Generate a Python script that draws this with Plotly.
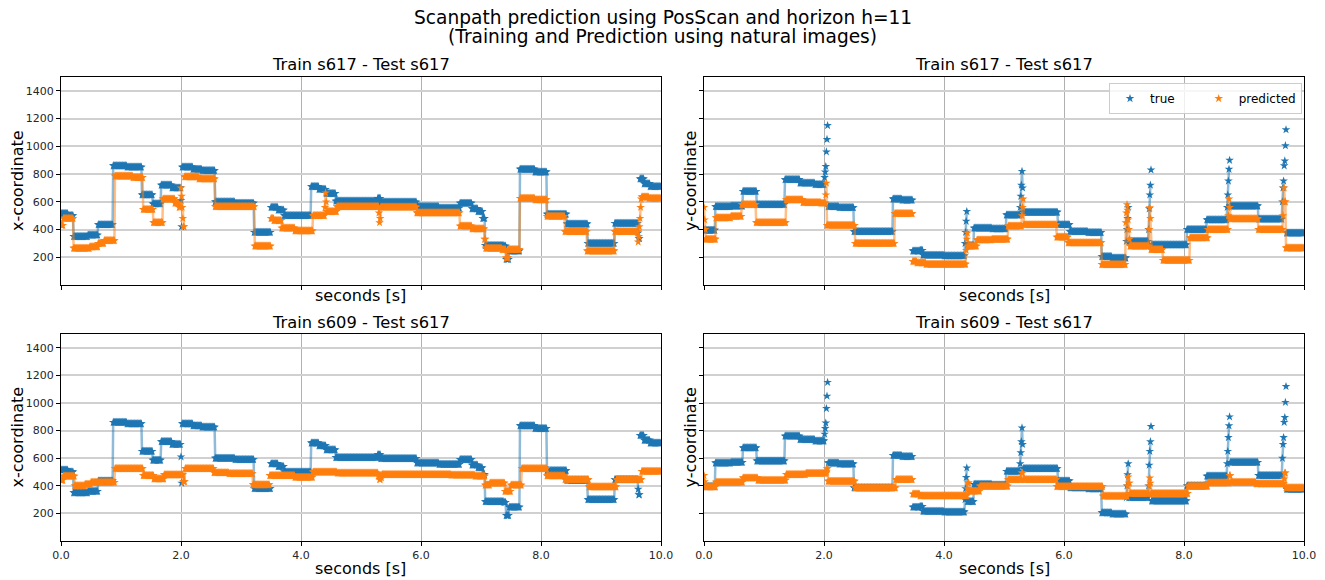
import numpy as np
import plotly.graph_objects as go

W, H = 1325, 580
RATE = 100          # samples per second
N_SAMPLES = 1000    # 10 s of gaze data

# ---- ground-truth scanpath of subject s617 (segment start [s] -> level [px]) ----
true_x_t = [0.00, 0.12, 0.21, 0.45, 0.62, 0.87, 1.10, 1.35, 1.53, 1.67,
            1.85, 2.00, 2.01, 2.02, 2.20, 2.35, 2.57, 2.90, 3.22, 3.50,
            3.62, 3.72, 4.17, 4.30, 4.42, 4.58, 5.28, 5.33, 5.93, 6.30,
            6.65, 6.85, 6.95, 7.03, 7.07, 7.38, 7.42, 7.47, 7.65, 7.90,
            8.10, 8.43, 8.78, 9.23, 9.62, 9.63, 9.65, 9.72, 9.82]
true_x_v = [515, 500, 350, 360, 435, 860, 850, 650, 585, 720,
            700, 610, 420, 850, 835, 825, 600, 590, 380, 560,
            540, 500, 710, 690, 660, 605, 625, 598, 565, 555,
            590, 550, 530, 480, 285, 280, 185, 245, 835, 815,
            510, 440, 300, 445, 375, 335, 765, 730, 710]
true_x_breaks = [2.00, 2.01, 2.02, 3.50, 9.65]

true_y_t = [0.00, 0.19, 0.45, 0.65, 0.88, 1.35, 1.60, 1.85, 2.01, 2.02,
            2.03, 2.04, 2.05, 2.06, 2.07, 2.25, 2.50, 3.15, 3.30, 3.48,
            3.60, 3.65, 4.00, 4.35, 4.36, 4.37, 4.38, 4.39, 4.50, 4.80,
            5.04, 5.27, 5.28, 5.29, 5.30, 5.31, 5.32, 5.90, 6.10, 6.40,
            6.63, 6.80, 7.04, 7.05, 7.06, 7.07, 7.08, 7.41, 7.42, 7.43,
            7.44, 7.45, 7.46, 8.05, 8.38, 8.72, 8.73, 8.74, 8.75, 8.76,
            8.77, 9.24, 9.64, 9.65, 9.66, 9.67, 9.68, 9.69, 9.70, 9.71]
true_y_v = [395, 565, 570, 675, 580, 760, 735, 725, 775, 815,
            855, 960, 1050, 1150, 565, 558, 385, 620, 612, 245,
            250, 215, 210, 300, 380, 460, 530, 285, 410, 405,
            505, 560, 640, 720, 820, 700, 525, 435, 385, 378,
            205, 195, 315, 400, 480, 560, 315, 400, 550, 650,
            720, 830, 290, 400, 470, 560, 650, 750, 835, 900,
            570, 475, 600, 700, 750, 860, 895, 1005, 1120, 375]
true_y_breaks = [2.04, 2.05, 2.06, 2.07, 3.48, 4.39, 5.32, 7.04, 7.08,
                 7.45, 7.46, 8.76, 8.77, 9.67, 9.68, 9.69, 9.70, 9.71]

# ---- PosScan prediction, trained on s617 ----
pred617_x_t = [0.00, 0.04, 0.21, 0.48, 0.62, 0.72, 0.90, 1.20, 1.37, 1.54,
               1.70, 1.90, 1.97, 2.00, 2.01, 2.02, 2.03, 2.04, 2.06, 2.30,
               2.57, 3.23, 3.50, 3.55, 3.68, 3.90, 4.20, 4.40, 4.41, 4.42,
               4.43, 4.60, 5.30, 5.31, 5.32, 5.33, 5.93, 6.65, 6.85, 7.06,
               7.08, 7.35, 7.42, 7.46, 7.65, 7.90, 8.10, 8.40, 8.77, 9.23,
               9.62, 9.63, 9.64, 9.65, 9.66, 9.67, 9.68, 9.80]
pred617_x_v = [430, 480, 265, 275, 300, 320, 785, 775, 545, 450,
               620, 590, 560, 700, 640, 560, 480, 420, 780, 765,
               565, 280, 480, 465, 410, 390, 500, 560, 665, 600,
               530, 565, 520, 450, 480, 562, 520, 425, 405, 330,
               265, 255, 195, 255, 625, 615, 495, 385, 245, 385,
               310, 350, 420, 480, 560, 620, 635, 625]
pred617_x_breaks = [2.00, 2.06, 3.50]

pred617_y_t = [0.00, 0.01, 0.02, 0.03, 0.20, 0.45, 0.63, 0.87, 1.37, 1.65,
               1.95, 2.03, 2.04, 2.05, 2.52, 3.18, 3.48, 3.55, 3.70, 4.37,
               4.38, 4.39, 4.40, 4.55, 4.80, 5.07, 5.30, 5.31, 5.32, 5.33,
               5.88, 6.07, 6.63, 7.03, 7.04, 7.05, 7.06, 7.07, 7.08, 7.09,
               7.10, 7.42, 7.43, 7.44, 7.45, 7.65, 8.10, 8.40, 8.74, 8.75,
               8.76, 8.77, 9.24, 9.65, 9.66, 9.67, 9.68, 9.70]
pred617_y_v = [560, 470, 400, 330, 485, 495, 580, 450, 615, 595,
               590, 650, 735, 430, 300, 515, 170, 160, 150, 250,
               330, 375, 280, 325, 330, 425, 500, 560, 620, 435,
               345, 305, 148, 450, 520, 580, 540, 470, 400, 330,
               280, 400, 557, 480, 255, 178, 340, 400, 500, 620,
               560, 477, 400, 500, 600, 700, 600, 267]
pred617_y_breaks = [3.48]

# ---- PosScan prediction, trained on s609 ----
pred609_x_t = [0.00, 0.04, 0.23, 0.40, 0.50, 0.90, 1.37, 1.55, 1.72, 2.04,
               2.07, 2.55, 2.80, 3.20, 3.48, 3.90, 4.20, 4.60, 5.29, 5.31,
               5.33, 5.35, 6.50, 6.90, 7.07, 7.15, 7.40, 7.50, 7.68, 8.10,
               8.40, 8.80, 9.26, 9.68]
pred609_x_v = [440, 470, 400, 410, 425, 525, 475, 450, 480, 430,
               525, 495, 488, 408, 475, 462, 500, 492, 470, 445,
               460, 482, 478, 470, 405, 420, 360, 405, 525, 472,
               445, 392, 445, 505]
pred609_x_breaks = [3.48]

pred609_y_t = [0.00, 0.01, 0.02, 0.20, 0.65, 0.90, 1.37, 1.70, 2.04, 2.05,
               2.07, 2.52, 3.20, 3.48, 3.60, 4.39, 4.40, 4.42, 4.60, 5.07,
               5.30, 5.32, 5.88, 6.65, 7.06, 7.07, 7.08, 7.10, 7.42, 7.43,
               7.44, 7.45, 8.07, 8.40, 8.76, 8.78, 9.20, 9.67, 9.68, 9.70]
pred609_y_v = [475, 430, 392, 426, 457, 440, 482, 490, 500, 525,
               433, 385, 445, 340, 328, 380, 421, 361, 397, 445,
               493, 445, 395, 325, 400, 464, 420, 344, 400, 457,
               420, 344, 397, 421, 474, 426, 415, 450, 493, 385]
pred609_y_breaks = [3.48]

x_ticks = [0, 2, 4, 6, 8, 10]
x_tick_text = ["0.0", "2.0", "4.0", "6.0", "8.0", "10.0"]
y_ticks = [200, 400, 600, 800, 1000, 1200, 1400]

BLUE, ORANGE = "#1f77b4", "#ff7f0e"
BLUE_EDGE, ORANGE_EDGE = "rgba(31,119,180,0.5)", "rgba(255,127,14,0.5)"
FONT = "DejaVu Sans"
# legend entries (extra padding after the first one gives the two-column spacing)
LEGEND_NAMES = {"true": "true" + "&nbsp;" * 5, "predicted": "predicted"}


def sample(starts, levels):
    """Hold each level from its start time until the next segment."""
    t = np.arange(N_SAMPLES) / RATE
    idx = np.searchsorted(np.asarray(starts), t + 1e-6, side="right") - 1
    return t, np.asarray(levels, dtype=float)[idx]


def with_breaks(t, v, breaks):
    cut = {int(round(b * RATE)) for b in breaks}
    xs, ys = [], []
    for i, (ti, vi) in enumerate(zip(t, v)):
        if i in cut:
            xs.append(None)
            ys.append(None)
        xs.append(float(ti))
        ys.append(float(vi))
    return xs, ys


series = {
    "true_x": (true_x_t, true_x_v, true_x_breaks),
    "true_y": (true_y_t, true_y_v, true_y_breaks),
    "p617_x": (pred617_x_t, pred617_x_v, pred617_x_breaks),
    "p617_y": (pred617_y_t, pred617_y_v, pred617_y_breaks),
    "p609_x": (pred609_x_t, pred609_x_v, pred609_x_breaks),
    "p609_y": (pred609_y_t, pred609_y_v, pred609_y_breaks),
}
curves = {k: with_breaks(*sample(s, l), b) for k, (s, l, b) in series.items()}

# panel pixel boxes: (left, top, right, bottom)
panels = [
    dict(ax="", box=(61, 77, 661, 285), title="Train s617 - Test s617",
         true="true_x", pred="p617_x", ylab="x-coordinate", xt=False, yt=True, leg=False),
    dict(ax="2", box=(704, 77, 1304, 285), title="Train s617 - Test s617",
         true="true_y", pred="p617_y", ylab="y-coordinate", xt=False, yt=False, leg=True),
    dict(ax="3", box=(61, 334, 661, 541), title="Train s609 - Test s617",
         true="true_x", pred="p609_x", ylab="x-coordinate", xt=True, yt=True, leg=False),
    dict(ax="4", box=(704, 334, 1304, 541), title="Train s609 - Test s617",
         true="true_y", pred="p609_y", ylab="y-coordinate", xt=True, yt=False, leg=False),
]

fig = go.Figure()
annotations = []


def ann(text, px, py, size, angle=0):
    annotations.append(dict(
        text=text, x=px / W, y=1 - py / H, xref="paper", yref="paper",
        xanchor="center", yanchor="middle", showarrow=False, textangle=angle,
        font=dict(family=FONT, size=size, color="black")))


layout_axes = {}
for p in panels:
    l, t, r, b = p["box"]
    xa, ya = "x" + p["ax"], "y" + p["ax"]
    for key, color, edge, name in ((p["true"], BLUE, BLUE_EDGE, "true"),
                                   (p["pred"], ORANGE, ORANGE_EDGE, "predicted")):
        xs, ys = curves[key]
        fig.add_trace(go.Scatter(x=xs, y=ys, xaxis=xa, yaxis=ya, mode="lines",
                                 line=dict(color=edge, width=2.5),
                                 hoverinfo="skip", showlegend=False))
        fig.add_trace(go.Scatter(x=xs, y=ys, xaxis=xa, yaxis=ya, mode="markers",
                                 marker=dict(symbol="star", size=6.5, color=color,
                                             line=dict(width=0)),
                                 name=LEGEND_NAMES[name], showlegend=p["leg"]))
    common = dict(showline=True, linecolor="black", linewidth=1, mirror=True,
                  ticks="outside", ticklen=4, tickcolor="black", zeroline=False,
                  automargin=False,
                  tickfont=dict(family=FONT, size=11, color="#262626"))
    layout_axes["xaxis" + p["ax"]] = dict(
        domain=[l / W, r / W], anchor=ya, range=[0, 10],
        tickvals=x_ticks, ticktext=x_tick_text, showticklabels=p["xt"],
        showgrid=True, gridcolor="#b0b0b0", gridwidth=1, **common)
    layout_axes["yaxis" + p["ax"]] = dict(
        domain=[1 - b / H, 1 - t / H], anchor=xa, range=[0, 1500],
        tickvals=y_ticks, showticklabels=p["yt"],
        showgrid=True, gridcolor="#d0d0d0", gridwidth=1.5, **common)
    cx = (l + r) / 2
    ann(p["title"], cx, t - 12, 16.3)
    ann("seconds [s]", cx, b + 10 if not p["xt"] else b + 27, 16)
    ann(p["ylab"], l - 44 if p["yt"] else l - 14, (t + b) / 2, 16, angle=-90)

ann("Scanpath prediction using PosScan and horizon h=11", W / 2, 18, 18.6)
ann("(Training and Prediction using natural images)", W / 2, 37, 18.6)

fig.update_layout(
    width=W, height=H, autosize=False,
    margin=dict(l=0, r=0, t=0, b=0, autoexpand=False),
    paper_bgcolor="white", plot_bgcolor="white",
    font=dict(family=FONT, color="black"),
    annotations=annotations,
    legend=dict(orientation="h", x=1302 / W, xanchor="right", y=1 - 83 / H, yanchor="top",
                bgcolor="rgba(255,255,255,0.8)", bordercolor="#cccccc", borderwidth=1,
                font=dict(family=FONT, size=12, color="black"), itemwidth=30),
    **layout_axes,
)

fig.write_html("out.html")
